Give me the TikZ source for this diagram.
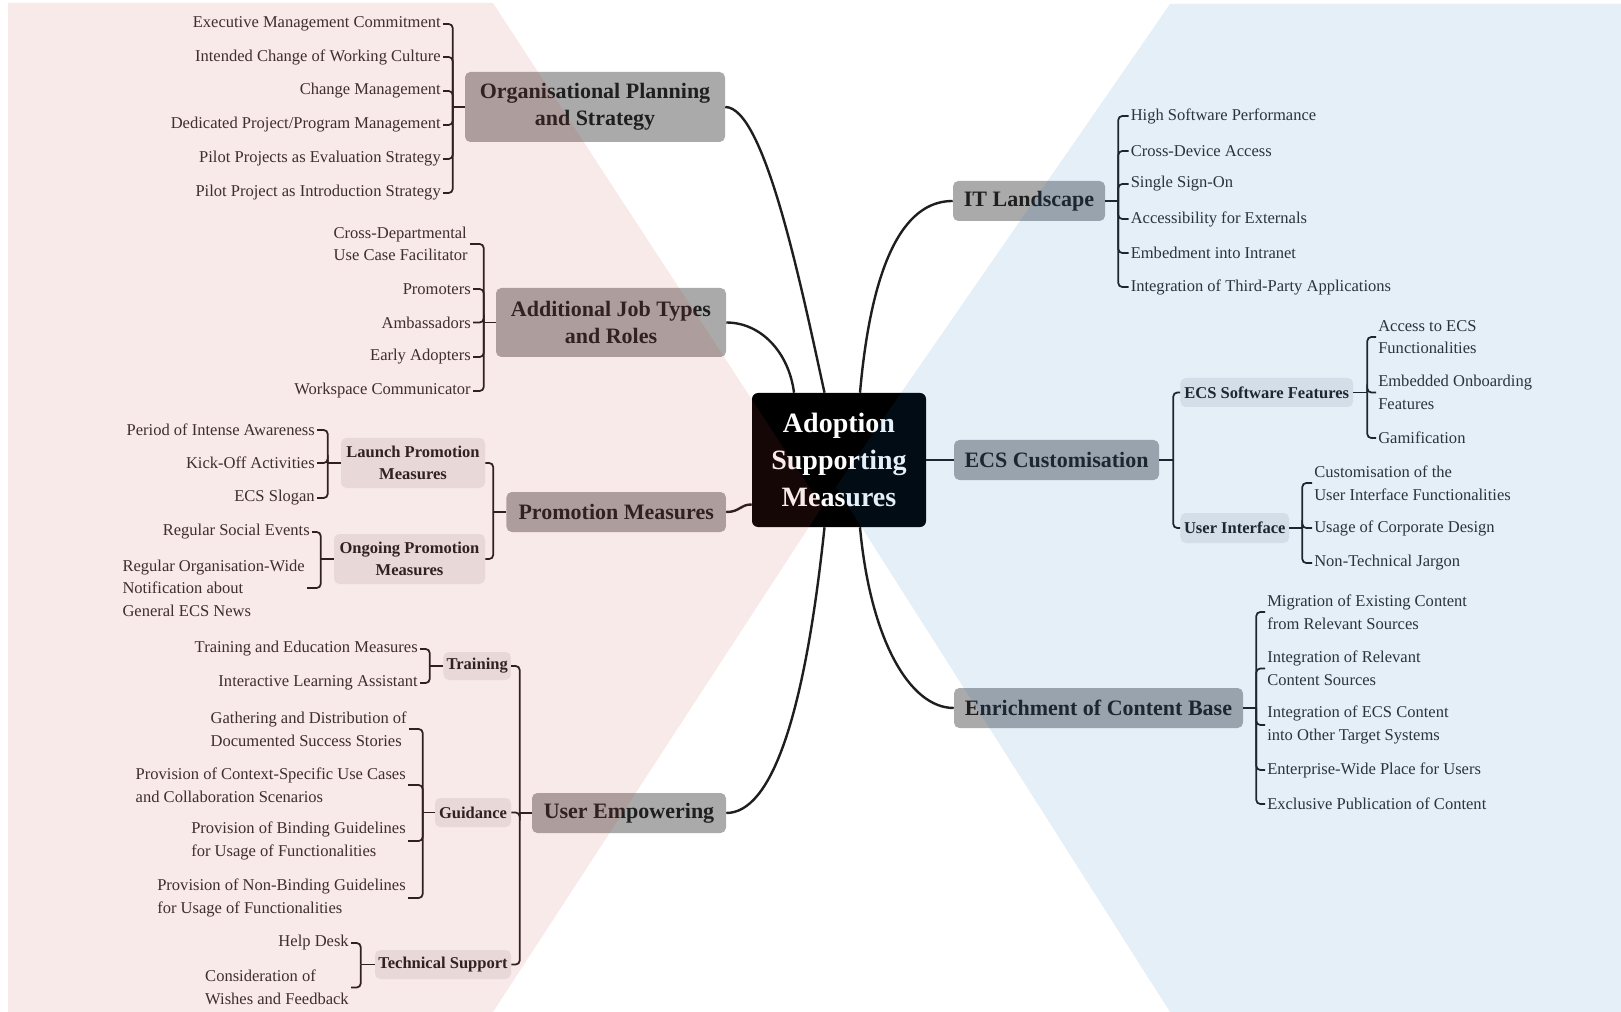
\documentclass[tikz,border=0pt]{standalone}
\usepackage{fontspec}
\setmainfont{Liberation Serif}
\usetikzlibrary{calc}

\definecolor{inkline}{RGB}{30,30,30}
\definecolor{leafink}{RGB}{45,45,45}
\definecolor{mainfill}{RGB}{170,170,170}
\definecolor{subfill}{RGB}{236,236,236}
\definecolor{zonepink}{RGB}{200,64,55}
\definecolor{zoneblue}{RGB}{20,110,200}

\tikzset{
  rootbox/.style={fill=black, text=white, rounded corners=4.5pt, align=center,
    font=\fontsize{21pt}{27.5pt}\selectfont\bfseries,
    minimum width=130.5pt, minimum height=100.5pt, inner sep=0pt},
  mainbox/.style={fill=mainfill, text=black!88, rounded corners=4pt, align=center,
    font=\fontsize{16.5pt}{20pt}\selectfont\bfseries, minimum height=30pt, inner sep=0pt},
  subbox/.style={fill=subfill, text=black!88, rounded corners=4pt, align=center,
    font=\fontsize{12.4pt}{16.8pt}\selectfont\bfseries, inner sep=0pt},
  leaf/.style={text=leafink, align=left, font=\fontsize{12.4pt}{16.9pt}\selectfont,
    inner xsep=1.5pt, inner ysep=0pt},
  leafL/.style={leaf, anchor=east},
  leafR/.style={leaf, anchor=west},
  trunk/.style={draw=inkline, line width=1.8pt},
  twig/.style={draw=inkline, line width=1.3pt, rounded corners=3pt},
}

% bracket fans: parent, offset of the bracket, children
\newcommand\fanL[3]{%
  \coordinate (j#1) at ($(#1.west)+(-#2,0)$);
  \draw[twig] (#1.west) -- (j#1);
  \foreach \kid in {#3} \draw[twig] (j#1) |- (\kid.east);}
\newcommand\fanR[3]{%
  \coordinate (j#1) at ($(#1.east)+(#2,0)$);
  \draw[twig] (#1.east) -- (j#1);
  \foreach \kid in {#3} \draw[twig] (j#1) |- (\kid.west);}

\begin{document}
\begin{tikzpicture}[x=0.75pt,y=-0.75pt]
\useasboundingbox (0,0) rectangle (1621,1012);
\fill[white] (0,0) rectangle (1621,1012);

% central topic
\node[rootbox] (root) at (839,460) {Adoption\\Supporting\\Measures};

% main topics, left
\node[mainbox, minimum width=195pt, minimum height=52.5pt] (ops) at (595,107) {Organisational Planning\\and Strategy};
\node[mainbox, minimum width=172.5pt, minimum height=51.75pt] (ajt) at (611,322.5) {Additional Job Types\\and Roles};
\node[mainbox, minimum width=164.6pt] (pm) at (616.2,512) {Promotion Measures};
\node[mainbox, minimum width=145.5pt] (ue) at (629,813) {User Empowering};
% main topics, right
\node[mainbox, minimum width=114pt] (itl) at (1029,201) {IT Landscape};
\node[mainbox, minimum width=153.75pt] (ecsc) at (1056.5,460) {ECS Customisation};
\node[mainbox, minimum width=216.75pt] (ecb) at (1098.5,708) {Enrichment of Content Base};

% subtopics
\node[subbox, minimum width=108pt, minimum height=37.5pt] (lpm) at (413,463) {Launch Promotion\\Measures};
\node[subbox, minimum width=113.25pt, minimum height=37.5pt] (opm) at (409.5,559) {Ongoing Promotion\\Measures};
\node[subbox, minimum width=50.6pt, minimum height=21pt] (trn) at (477.2,666) {Training};
\node[subbox, minimum width=57pt, minimum height=21.75pt] (gui) at (473,812.5) {Guidance};
\node[subbox, minimum width=102pt, minimum height=21.75pt] (tsu) at (443,964.5) {Technical Support};
\node[subbox, minimum width=129.4pt, minimum height=21.75pt] (esf) at (1266.75,392.5) {ECS Software Features};
\node[subbox, minimum width=81.4pt, minimum height=22.5pt] (uif) at (1234.75,528) {User Interface};

% leaves: Organisational Planning and Strategy
\node[leafL] (o1) at (443,24) {Executive Management Commitment};
\node[leafL] (o2) at (443,57) {Intended Change of Working Culture};
\node[leafL] (o3) at (443,91) {Change Management};
\node[leafL] (o4) at (443,125) {Dedicated Project/Program Management};
\node[leafL] (o5) at (443,159) {Pilot Projects as Evaluation Strategy};
\node[leafL] (o6) at (443,193) {Pilot Project as Introduction Strategy};

% leaves: Additional Job Types and Roles
\node[leafL] (a1) at (470,244) {Cross-Departmental\\Use Case Facilitator};
\node[leafL] (a2) at (473,289) {Promoters};
\node[leafL] (a3) at (473,322.5) {Ambassadors};
\node[leafL] (a4) at (473,357) {Early Adopters};
\node[leafL] (a5) at (473,391) {Workspace Communicator};

% leaves: promotion
\node[leafL] (l1) at (317,430) {Period of Intense Awareness};
\node[leafL] (l2) at (317,463) {Kick-Off Activities};
\node[leafL] (l3) at (317,498) {ECS Slogan};
\node[leafL] (g1) at (312,532) {Regular Social Events};
\node[leafL] (g2) at (307,588) {Regular Organisation-Wide\\Notification about\\General ECS News};

% leaves: user empowering
\node[leafL] (t1) at (420,649) {Training and Education Measures};
\node[leafL] (t2) at (420,683) {Interactive Learning Assistant};
\node[leafL] (d1) at (409,729) {Gathering and Distribution of\\Documented Success Stories};
\node[leafL] (d2) at (408,785) {Provision of Context-Specific Use Cases\\and Collaboration Scenarios};
\node[leafL] (d3) at (408,841) {Provision of Binding Guidelines\\for Usage of Functionalities};
\node[leafL] (d4) at (408,898) {Provision of Non-Binding Guidelines\\for Usage of Functionalities};
\node[leafL] (s1) at (351,943) {Help Desk};
\node[leafL] (s2) at (351,987.5) {Consideration of\\Wishes and Feedback};

% leaves: IT Landscape
\node[leafR] (i1) at (1128.5,116) {High Software Performance};
\node[leafR] (i2) at (1128.5,151) {Cross-Device Access};
\node[leafR] (i3) at (1128.5,184) {Single Sign-On};
\node[leafR] (i4) at (1128.5,219) {Accessibility for Externals};
\node[leafR] (i5) at (1128.5,253) {Embedment into Intranet};
\node[leafR] (i6) at (1128.5,287) {Integration of Third-Party Applications};

% leaves: ECS Customisation
\node[leafR] (f1) at (1376,337) {Access to ECS\\Functionalities};
\node[leafR] (f2) at (1376,392.5) {Embedded Onboarding\\Features};
\node[leafR] (f3) at (1376,438) {Gamification};
\node[leafR] (u1) at (1312,483) {Customisation of the\\User Interface Functionalities};
\node[leafR] (u2) at (1312,528) {Usage of Corporate Design};
\node[leafR] (u3) at (1312,563) {Non-Technical Jargon};

% leaves: Enrichment of Content Base
\node[leafR] (e1) at (1265,612) {Migration of Existing Content\\from Relevant Sources};
\node[leafR] (e2) at (1265,668.5) {Integration of Relevant\\Content Sources};
\node[leafR] (e3) at (1265,725) {Integration of ECS Content\\into Other Target Systems};
\node[leafR] (e4) at (1265,770) {Enterprise-Wide Place for Users};
\node[leafR] (e5) at (1265,804) {Exclusive Publication of Content};

% brackets
\fanL{ops}{12}{o1,o2,o3,o4,o5,o6}
\fanL{ajt}{12}{a1,a2,a3,a4,a5}
\fanL{pm}{13}{lpm,opm}
\fanL{lpm}{13}{l1,l2,l3}
\fanL{opm}{13}{g1,g2}
\fanL{ue}{12}{trn,gui,tsu}
\fanL{trn}{13.5}{t1,t2}
\fanL{gui}{12}{d1,d2,d3,d4}
\fanL{tsu}{14}{s1,s2}
\fanR{itl}{13}{i1,i2,i3,i4,i5,i6}
\fanR{ecsc}{14}{esf,uif}
\fanR{esf}{14}{f1,f2,f3}
\fanR{uif}{13}{u1,u2,u3}
\fanR{ecb}{13}{e1,e2,e3,e4,e5}

% branches from the central topic
\draw[trunk] ($(root.north)+(-14.5,0)$) .. controls +(-24,-110) and +(39,0) .. (ops.east);
\draw[trunk] (ajt.east) .. controls +(35,0) and +(-5,-40) .. ($(root.north)+(-45,0)$);
\draw[trunk] (pm.east) .. controls +(14,0) and +(-12,0) .. (root.207);
\draw[trunk] ($(root.south)+(-14.5,0)$) .. controls +(-20,190) and +(45,0) .. (ue.east);
\draw[trunk] ($(root.north)+(21,0)$) .. controls +(15,-170) and +(-30,0) .. (itl.west);
\draw[trunk] (root.east) -- (ecsc.west);
\draw[trunk] ($(root.south)+(21,0)$) .. controls +(10,110) and +(-45,0) .. (ecb.west);

% tinted zones over both halves
\fill[zonepink, fill opacity=0.11] (8,3) -- (493,3) -- (822,507) -- (493,1012) -- (8,1012) -- cycle;
\fill[zoneblue, fill opacity=0.11] (1170,4) -- (1621,4) -- (1621,1012) -- (1170,1012) -- (836,487) -- cycle;
\end{tikzpicture}
\end{document}
